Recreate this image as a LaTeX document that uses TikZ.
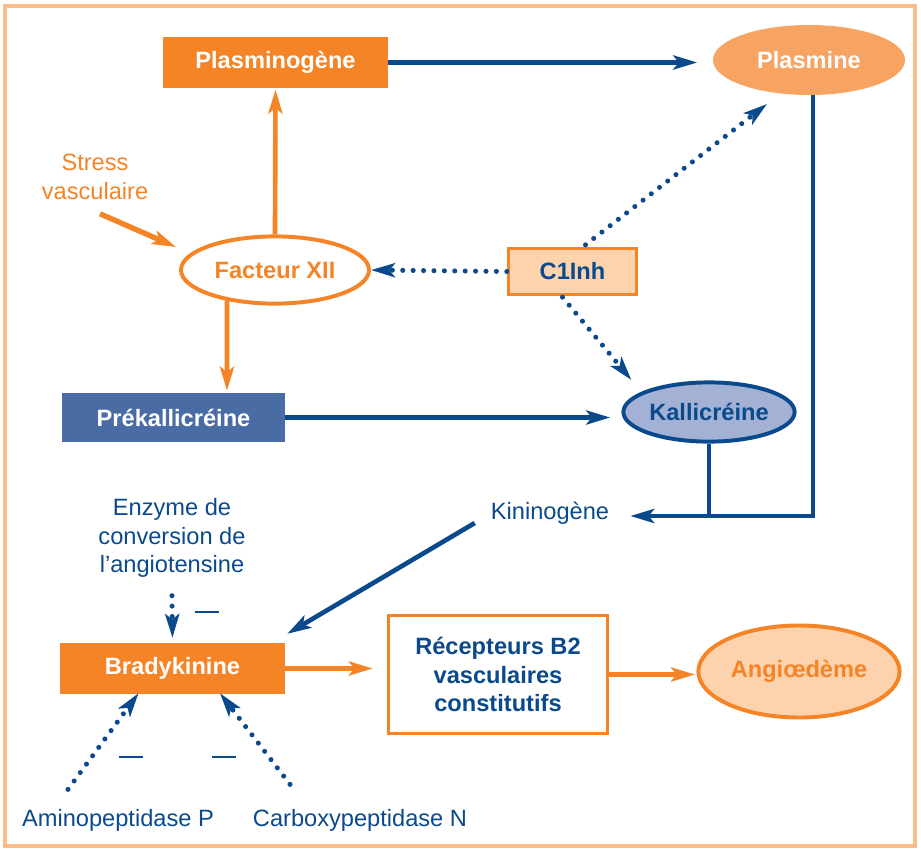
\documentclass[tikz,border=0pt]{standalone}
\usepackage{fontspec}
\setmainfont{Liberation Sans}
\usetikzlibrary{arrows.meta,shapes.geometric}
\definecolor{orangeF}{HTML}{F58426}
\definecolor{orangeM}{HTML}{F7A462}
\definecolor{orangeP}{HTML}{FDD3AE}
\definecolor{orangeB}{HTML}{FDBB87}
\definecolor{blueD}{HTML}{0A4A8C}
\definecolor{blueM}{HTML}{4A6CA5}
\definecolor{blueP}{HTML}{A3B1D4}
\tikzset{
  bluearr/.style={draw=blueD, line width=3.3pt, -{Stealth[length=17pt,width=10pt,inset=4pt]}},
  blueline/.style={draw=blueD, line width=3.3pt},
  orangearr/.style={draw=orangeF, line width=3.3pt, -{Stealth[length=17pt,width=10pt,inset=4pt]}},
  bluedot/.style={draw=blueD, line width=3.6pt, line cap=round, dash pattern=on 0pt off 7.4pt, -{Stealth[length=17pt,width=10pt,inset=4pt]}},
  orangebox/.style={rectangle, fill=orangeF, text=white, font=\bfseries, inner sep=0pt, minimum width=5.62cm, minimum height=1.27cm},
  bluetext/.style={text=blueD, align=center},
  minusbar/.style={text=blueD, inner sep=0pt}
}
\begin{document}
\fontsize{16.8}{20.3}\selectfont
\begin{tikzpicture}[x=0.025cm, y=-0.025cm]
  \useasboundingbox (0,0) rectangle (921,849);
  \draw[orangeB, line width=2.4pt] (5,6) rectangle (915,846);

  \node[orangebox] (plasminogene) at (275.5,62.5) {Plasminogène};
  \node[ellipse, fill=orangeM, text=white, font=\bfseries, inner sep=0pt, minimum width=4.8cm, minimum height=1.75cm] (plasmine) at (809,60) {Plasmine};
  \node[ellipse, draw=orangeF, line width=2.8pt, fill=white, text=orangeF, font=\bfseries, inner sep=0pt, minimum width=4.7cm, minimum height=1.68cm] (fxii) at (275,270) {Facteur XII};
  \node[rectangle, draw=orangeF, line width=2.4pt, fill=orangeP, text=blueD, font=\bfseries, inner sep=0pt, minimum width=3.2cm, minimum height=1.15cm] (c1inh) at (572.5,271.5) {C1Inh};
  \node[rectangle, fill=blueM, text=white, font=\bfseries, inner sep=0pt, minimum width=5.58cm, minimum height=1.23cm] (prekal) at (173.5,417.5) {Prékallicréine};
  \node[ellipse, draw=blueD, line width=2.8pt, fill=blueP, text=blueD, font=\bfseries, inner sep=0pt, minimum width=4.28cm, minimum height=1.48cm] (kalli) at (709,412) {Kallicréine};
  \node[bluetext] (kinin) at (550,513) {Kininogène};
  \node[orangebox] (brady) at (172.5,668.5) {Bradykinine};
  \node[rectangle, draw=orangeF, line width=2.4pt, fill=white, text=blueD, font=\bfseries, align=center, inner sep=0pt, minimum width=5.47cm, minimum height=2.95cm] (recep) at (498,674.5) {Récepteurs B2\\vasculaires\\constitutifs};
  \node[ellipse, draw=orangeF, line width=2.8pt, fill=orangeP, text=orangeF, font=\bfseries, inner sep=0pt, minimum width=5.03cm, minimum height=2.3cm] (angio) at (799,671.5) {Angiœdème};
  \node[text=orangeF, align=center] (stress) at (95,177) {Stress\\vasculaire};
  \node[bluetext] (enzyme) at (172,538) {Enzyme de\\conversion de\\l’angiotensine};
  \node[bluetext] (amino) at (118,820) {Aminopeptidase P};
  \node[bluetext] (carboxy) at (360,820) {Carboxypeptidase N};
  \node[minusbar] (minusace) at (207,612) {\rule{17pt}{1.9pt}};
  \node[minusbar] (minusamino) at (131,757) {\rule{17pt}{1.9pt}};
  \node[minusbar] (minuscarb) at (224,757) {\rule{17pt}{1.9pt}};
  \coordinate (kiniend) at ([shift={(13,3)}]kinin.east);

  \draw[bluearr, shorten >=11pt] (plasminogene.east) -- (plasminogene.east -| plasmine.west);
  \draw[orangearr, shorten >=1pt] (fxii.north) -- (plasminogene.south);
  \draw[orangearr, line width=3.8pt] ([shift={(5,6)}]stress.south) -- ([shift={(-3,-23)}]fxii.west);
  \draw[orangearr] ([shift={(-48,-5)}]fxii.south) -- ([shift={(53.5,-2)}]prekal.north);
  \draw[bluearr, shorten >=8pt] (prekal.east) -- (prekal.east -| kalli.west);
  \draw[bluedot] (c1inh.west) -- (fxii.east);
  \draw[bluedot] ([shift={(13,-2)}]c1inh.north) -- ([shift={(-42,44)}]plasmine.center);
  \draw[bluedot] ([shift={(-10,1)}]c1inh.south) -- ([shift={(10,-32)}]kalli.west);
  \draw[bluearr] ([shift={(4,0)}]plasmine.south) |- (kiniend);
  \draw[blueline] (kalli.south) -- (kalli.south |- kiniend);
  \draw[bluearr] ([shift={(-8,10)}]kinin.west) -- ([shift={(2,-9)}]brady.north east);
  \draw[orangearr, shorten >=10pt] (brady.east) -- (brady.east -| recep.west);
  \draw[orangearr, shorten >=1pt] (recep.east) -- (recep.east -| angio.west);
  \draw[bluedot, shorten >=3.5pt] ([shift={(0,10)}]enzyme.south) -- (brady.north);
  \draw[bluedot] ([shift={(-50,-11.5)}]amino.north) -- ([shift={(-34,-1)}]brady.south);
  \draw[bluedot] ([shift={(-70,-16.5)}]carboxy.north) -- ([shift={(47.5,-1)}]brady.south);
\end{tikzpicture}
\end{document}
